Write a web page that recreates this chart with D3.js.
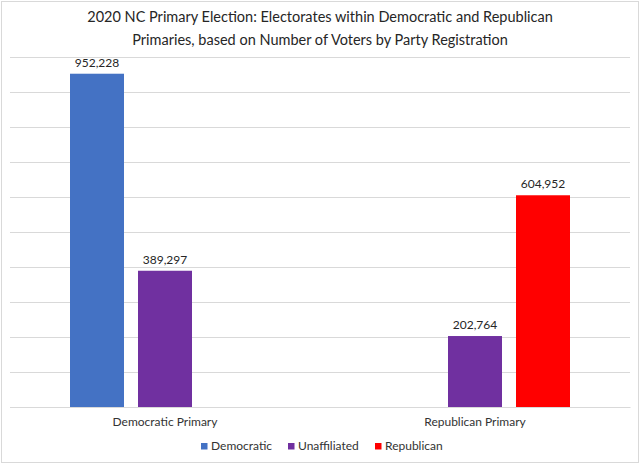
<!DOCTYPE html>
<html><head><meta charset="utf-8">
<script src="https://cdn.jsdelivr.net/npm/d3@7"></script>
<style>body{margin:0;background:#fff;} svg{display:block;}</style>
</head><body>
<svg id="c" width="640" height="464"></svg>
<script>
const categories = ["Democratic Primary", "Republican Primary"];
const seriesNames = ["Democratic", "Unaffiliated", "Republican"];
const democratic = [952228, null];
const unaffiliated = [389297, 202764];
const republican = [null, 604952];
const seriesColors = ["#4472C4", "#7030A0", "#FF0000"];
const yTicks = [0,100000,200000,300000,400000,500000,600000,700000,800000,900000,1000000];
const titleLines = ["2020 NC Primary Election: Electorates within Democratic and Republican",
                    "Primaries, based on Number of Voters by Party Registration"];

const seriesValues = [democratic, unaffiliated, republican];
const FONT = "Lato, 'Open Sans', sans-serif";
const svg = d3.select("#c");
const W = 640, H = 464;

svg.append("rect").attr("x",1.5).attr("y",1.5).attr("width",W-3).attr("height",H-3)
  .attr("fill","#fff").attr("stroke","#d9d9d9").attr("stroke-width",1);

const y = d3.scaleLinear().domain([0, 1000000]).range([407, 57]);
const x0 = d3.scaleBand().domain(categories).range([10, 630]).paddingInner(0).paddingOuter(0);
const x1 = d3.scaleBand().domain(seriesNames).range([60, x0.bandwidth()-60]).paddingInner(14/68).paddingOuter(0);

// gridlines
const gridAxis = d3.axisLeft(y).tickValues(yTicks).tickSize(-(620)).tickFormat("");
const g = svg.append("g").attr("transform","translate(10,0)").call(gridAxis);
g.select(".domain").remove();
g.selectAll(".tick line").attr("stroke","#d9d9d9").attr("stroke-width",1)
  .attr("shape-rendering","crispEdges");

// bars
const data = [];
categories.forEach((c,i)=>seriesNames.forEach((s,j)=>{
  const v = seriesValues[j][i];
  if (v != null) data.push({c, s, v, color: seriesColors[j]});
}));
const bars = svg.append("g");
bars.selectAll("rect").data(data).join("rect")
  .attr("x", d=>x0(d.c)+x1(d.s)).attr("width", x1.bandwidth())
  .attr("y", d=>y(d.v)).attr("height", d=>y(0)-y(d.v))
  .attr("fill", d=>d.color);
bars.selectAll("text").data(data).join("text")
  .attr("x", d=>x0(d.c)+x1(d.s)+x1.bandwidth()/2).attr("y", d=>y(d.v)-7)
  .attr("text-anchor","middle").attr("font-family",FONT).attr("font-size","12px")
  .attr("fill","#262626").text(d=>d3.format(",")(d.v));

// x axis
const xa = svg.append("g").attr("transform","translate(0,407)")
  .call(d3.axisBottom(x0).tickSize(0).tickPadding(10));
xa.select(".domain").attr("stroke","#d9d9d9");
xa.selectAll("text").attr("font-family",FONT).attr("font-size","12px").attr("fill","#333");

// title
svg.append("g").selectAll("text").data(titleLines).join("text")
  .attr("x", 320).attr("y",(d,i)=>22+i*23).attr("text-anchor","middle")
  .attr("font-family",FONT).attr("font-size","14.5px").attr("fill","#262626").text(d=>d);

// legend
const legendX = [201, 288, 375];
const lg = svg.append("g").selectAll("g").data(seriesNames).join("g")
  .attr("transform",(d,i)=>`translate(${legendX[i]},443)`);
lg.append("rect").attr("width",6.5).attr("height",6.5).attr("fill",(d,i)=>seriesColors[i]);
lg.append("text").attr("x",10).attr("y",7).attr("font-family",FONT).attr("font-size","12px")
  .attr("fill","#333").text(d=>d);
</script>
</body></html>
